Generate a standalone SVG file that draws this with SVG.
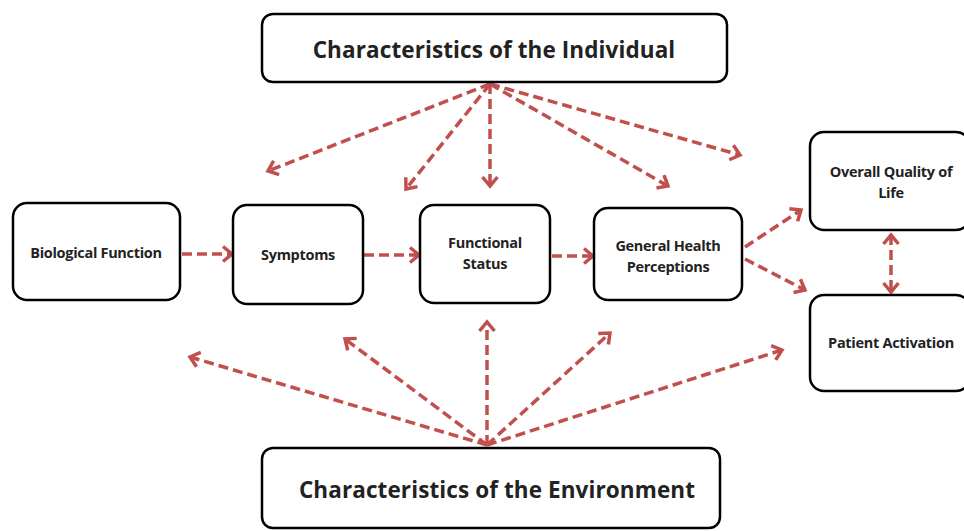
<svg xmlns="http://www.w3.org/2000/svg" width="964" height="531" viewBox="0 0 964 531">
<defs>
<marker id="ah" markerUnits="userSpaceOnUse" markerWidth="20" markerHeight="20" viewBox="-12 -10 14 20" refX="0" refY="0" orient="auto-start-reverse">
<polyline points="-9,-7.5 0,0 -9,7.5" fill="none" stroke="#c0504d" stroke-width="3.5"/>
</marker>
</defs>
<style>
.box{fill:#fff;stroke:#000;stroke-width:2.5}
.t{font-family:"Open Sans","Liberation Sans",sans-serif;font-weight:bold;fill:#222;text-anchor:middle}
.big{font-size:22.5px;letter-spacing:0.1px}
.sm{font-size:14.5px;letter-spacing:-0.3px}
.c{fill:none;stroke:#c0504d;stroke-width:3.5;stroke-dasharray:10,5;marker-end:url(#ah)}
.d{marker-start:url(#ah)}
</style>
<rect width="964" height="531" fill="#fff"/>
<g id="connectors">
<path class="c" d="M490,84 L268,171"/>
<path class="c" d="M490,84 L406,189"/>
<path class="c" d="M490,84 L490,186"/>
<path class="c" d="M490,84 L668,186"/>
<path class="c" d="M490,84 L740,155"/>
<path class="c" d="M487,445 L190,357"/>
<path class="c" d="M487,445 L345,339"/>
<path class="c" d="M487,445 L487,322"/>
<path class="c" d="M487,445 L610,333"/>
<path class="c" d="M487,445 L782,350"/>
<path class="c" d="M182,254 L232,254"/>
<path class="c" d="M364,255 L419,255"/>
<path class="c" d="M552,256 L593,256"/>
<path class="c" d="M745,247 L801,210"/>
<path class="c" d="M745,259 L805,290"/>
<path class="c d" d="M891,235 L891,292"/>
</g>
<g id="individual"><rect class="box" x="262" y="14" width="465" height="68" rx="11"/><text class="t big" x="494" y="58">Characteristics of the Individual</text></g>
<g id="biological"><rect class="box" x="13" y="203" width="167" height="97" rx="14"/><text class="t sm" x="96" y="258">Biological Function</text></g>
<g id="symptoms"><rect class="box" x="233" y="205" width="130" height="99" rx="14"/><text class="t sm" x="298" y="260">Symptoms</text></g>
<g id="functional"><rect class="box" x="420" y="205" width="130" height="98" rx="14"/><text class="t sm" x="485" y="248">Functional</text><text class="t sm" x="485" y="269">Status</text></g>
<g id="ghp"><rect class="box" x="594" y="208" width="148" height="92" rx="14"/><text class="t sm" x="668" y="251">General Health</text><text class="t sm" x="668" y="272">Perceptions</text></g>
<g id="qol"><rect class="box" x="810" y="132" width="160" height="98" rx="14"/><text class="t sm" x="891" y="177">Overall Quality of</text><text class="t sm" x="891" y="198">Life</text></g>
<g id="activation"><rect class="box" x="810" y="295" width="160" height="96" rx="14"/><text class="t sm" x="891" y="348">Patient Activation</text></g>
<g id="environment"><rect class="box" x="262" y="448" width="458" height="80" rx="11"/><text class="t big" x="497" y="498">Characteristics of the Environment</text></g>
</svg>
